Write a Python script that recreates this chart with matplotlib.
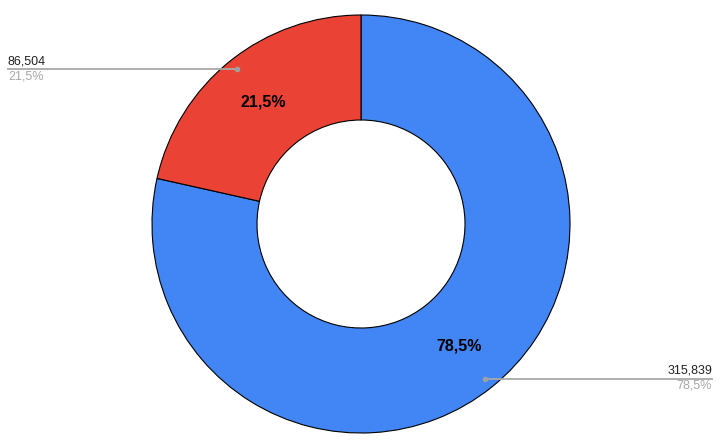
import numpy as np
import matplotlib
matplotlib.use("Agg")
import matplotlib.pyplot as plt

# slice values, drawn clockwise from 12 o'clock
values = [315839, 86504]
colors = ["#4285F4", "#EA4335"]

W, H = 721, 448
cx, cy = 361, 224
r_out, r_in = 209, 104

plt.rcParams["font.family"] = ["Liberation Sans", "DejaVu Sans"]

fig = plt.figure(figsize=(W / 100, H / 100), dpi=100)
ax = fig.add_axes([0, 0, 1, 1])

# y axis is inverted, so counterclock=True in data space looks clockwise on screen
wedges, _ = ax.pie(values, colors=colors, startangle=-90, counterclock=True,
                   center=(cx, cy), radius=r_out,
                   wedgeprops=dict(width=r_out - r_in, edgecolor="black", linewidth=0.8),
                   frame=True)
ax.set_xlim(0, W)
ax.set_ylim(H, 0)
ax.set_aspect("equal")
ax.axis("off")

total = sum(values)
for w, v in zip(wedges, values):
    pct = v / total * 100
    pct_txt = f"{pct:.1f}%".replace(".", ",")
    mid = np.deg2rad((w.theta1 + w.theta2) / 2)
    # label inside ring
    rl = (r_out + r_in) / 2
    ax.text(cx + rl * np.cos(mid), cy + rl * np.sin(mid), pct_txt,
            ha="center", va="center", fontsize=11.5, fontweight="bold", color="black")
    # leader dot + line
    dx = cx + 198 * np.cos(mid)
    dy = cy + 198 * np.sin(mid)
    ax.plot([dx], [dy], "o", color="#a0a0a0", markersize=3, zorder=5)
    if np.cos(mid) < 0:
        x_end, ha = 8, "left"
    else:
        x_end, ha = 712, "right"
    ax.plot([dx, x_end], [dy, dy], color="#a8a8a8", linewidth=1.3, zorder=4)
    ax.text(x_end, dy - 2, f"{v:,}", ha=ha, va="bottom", fontsize=9, color="#222222")
    ax.text(x_end, dy + 1, pct_txt, ha=ha, va="top", fontsize=9, color="#a8a8a8")

fig.savefig("out.png", dpi=100)
